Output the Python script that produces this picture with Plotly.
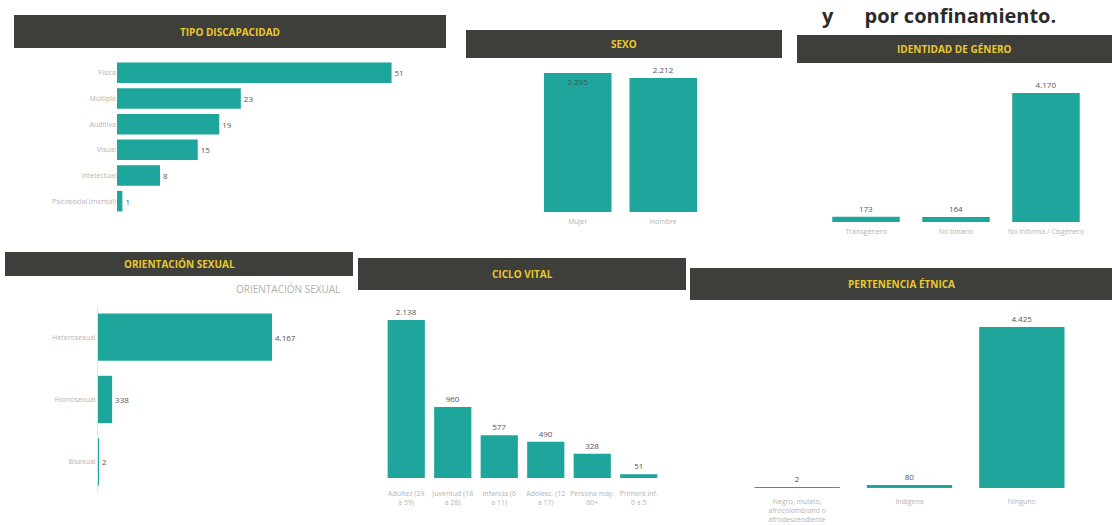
import plotly.graph_objects as go

W, H = 1112, 525

# ---------------- data ----------------
disc_cats = ["Física", "Múltiple", "Auditiva", "Visual", "Intelectual", "Psicosocial (mental)"]
disc_vals = [51, 23, 19, 15, 8, 1]

sexo_cats = ["Mujer", "Hombre"]
sexo_vals = [2295, 2212]

gen_cats = ["Transgénero", "No binario", "No informa / Cisgénero"]
gen_vals = [173, 164, 4170]

ori_cats = ["Heterosexual", "Homosexual", "Bisexual"]
ori_vals = [4167, 338, 2]

ciclo_cats = ["Adultez (29<br>a 59)", "Juventud (18<br>a 28)", "Infancia (6<br>a 11)",
              "Adolesc. (12<br>a 17)", "Persona may.<br>60+", "Primera inf.<br>0 a 5"]
ciclo_vals = [2138, 960, 577, 490, 328, 51]

etn_cats = ["Negro, mulato,<br>afrocolombiano o<br>afrodescendiente", "Indígena", "Ninguno"]
etn_vals = [2, 80, 4425]

headers = ["TIPO DISCAPACIDAD", "SEXO", "IDENTIDAD DE GÉNERO",
           "ORIENTACIÓN SEXUAL", "CICLO VITAL", "PERTENENCIA ÉTNICA"]

# ---------------- style ----------------
TEAL = "#1fa69c"
HDR = "#3e3e3a"
YEL = "#e9c92e"
TICK = "#b4b4b4"
VAL = "#555555"
FONT = "Open Sans"


def px(x):
    return x / W


def py(y):
    return 1 - y / H


fig = go.Figure()
layout = {}


def add_panel(i, cats, vals, orient, xdom, ydom, rng, textpos=None, vline=False, standoff=0):
    xa = "x" if i == 1 else f"x{i}"
    ya = "y" if i == 1 else f"y{i}"
    xkey = "xaxis" if i == 1 else f"xaxis{i}"
    ykey = "yaxis" if i == 1 else f"yaxis{i}"
    tp = textpos if textpos is not None else "outside"
    if orient == "h":
        fig.add_trace(go.Bar(
            y=cats, x=vals, orientation="h", marker=dict(color=TEAL, line=dict(width=0)),
            text=vals, texttemplate="%{x:,}", textposition=tp, cliponaxis=False,
            textfont=dict(size=8, color=VAL, family=FONT),
            xaxis=xa, yaxis=ya, showlegend=False, hoverinfo="skip"))
        layout[xkey] = dict(domain=[px(xdom[0]), px(xdom[1])], anchor=ya, range=rng,
                            showgrid=False, zeroline=False, showticklabels=False, fixedrange=True)
        layout[ykey] = dict(domain=[py(ydom[1]), py(ydom[0])], anchor=xa,
                            autorange="reversed", showgrid=False, zeroline=False,
                            tickfont=dict(size=7, color=TICK, family=FONT), ticks="",
                            showline=vline, linecolor="#e6e6e6", linewidth=1, fixedrange=True)
    else:
        fig.add_trace(go.Bar(
            x=cats, y=vals, marker=dict(color=TEAL, line=dict(width=0)),
            text=vals, texttemplate="%{y:,}", textposition=tp, cliponaxis=False,
            insidetextanchor="end",
            textfont=dict(size=8, color=VAL, family=FONT),
            insidetextfont=dict(size=8, color="#2f5f5a", family=FONT),
            xaxis=xa, yaxis=ya, showlegend=False, hoverinfo="skip"))
        layout[xkey] = dict(domain=[px(xdom[0]), px(xdom[1])], anchor=ya,
                            showgrid=False, zeroline=False, ticks="",
                            tickfont=dict(size=7, color=TICK, family=FONT), tickangle=0,
                            ticklabelstandoff=standoff, fixedrange=True)
        layout[ykey] = dict(domain=[py(ydom[1]), py(ydom[0])], anchor=xa, range=rng,
                            showgrid=False, zeroline=False, showticklabels=False, fixedrange=True)


add_panel(1, disc_cats, disc_vals, "h", (117, 440), (60, 214), [0, 60])
add_panel(2, sexo_cats, sexo_vals, "v", (535, 706), (60, 212), [0, 2510],
          textpos=["inside", "outside"], standoff=4)
add_panel(3, gen_cats, gen_vals, "v", (821, 1091), (75, 222), [0, 4752], standoff=4)
add_panel(4, ori_cats, ori_vals, "h", (98, 330), (306, 493), [0, 5556], vline=True)
add_panel(5, ciclo_cats, ciclo_vals, "v", (383, 662), (300, 478), [0, 2409], standoff=10)
add_panel(6, etn_cats, etn_vals, "v", (741, 1078), (305, 488), [0, 5030], standoff=8)

# bar widths as fraction of the category slot
widths = [0.8, 0.79, 0.75, 0.76, 0.8, 0.76]
for tr, w in zip(fig.data, widths):
    tr.width = w

# ---------------- header bars ----------------
hdr_boxes = [(14, 446, 15, 48), (466, 782, 30, 58), (797, 1112, 35, 63),
             (5, 353, 252, 276), (358, 686, 258, 290), (690, 1112, 268, 300)]
shapes = []
annotations = []
for (x0, x1, y0, y1), txt in zip(hdr_boxes, headers):
    shapes.append(dict(type="rect", xref="paper", yref="paper",
                       x0=px(x0), x1=px(x1), y0=py(y1), y1=py(y0),
                       fillcolor=HDR, line=dict(width=0), layer="below"))
    annotations.append(dict(xref="paper", yref="paper", x=px((x0 + x1) / 2), y=py((y0 + y1) / 2),
                            text=f"<b>{txt}</b>", showarrow=False,
                            font=dict(size=10, color=YEL, family=FONT),
                            xanchor="center", yanchor="middle"))

# tooltip-like overlay label
shapes.append(dict(type="rect", xref="paper", yref="paper",
                   x0=px(230), x1=px(357), y0=py(298), y1=py(277),
                   fillcolor="white", line=dict(width=0), layer="above"))
annotations.append(dict(xref="paper", yref="paper", x=px(234), y=py(289),
                        text="ORIENTACIÓN SEXUAL", showarrow=False,
                        font=dict(size=10, color="#b0b0b0", family=FONT),
                        xanchor="left", yanchor="middle"))

# page title fragment at the top edge
annotations.append(dict(xref="paper", yref="paper", x=px(1058), y=py(0),
                        text="<b>y      por confinamiento.</b>", showarrow=False,
                        font=dict(size=20, color="#2b2b2b", family=FONT),
                        xanchor="right", yanchor="top"))

fig.update_layout(
    width=W, height=H,
    margin=dict(l=0, r=0, t=0, b=0),
    paper_bgcolor="white", plot_bgcolor="white",
    separators=",.",
    shapes=shapes, annotations=annotations,
    font=dict(family=FONT),
    **layout,
)

fig.write_html("out.html", config={"displayModeBar": False},
               post_script="document.body.style.margin='0';document.body.style.overflow='hidden';")
